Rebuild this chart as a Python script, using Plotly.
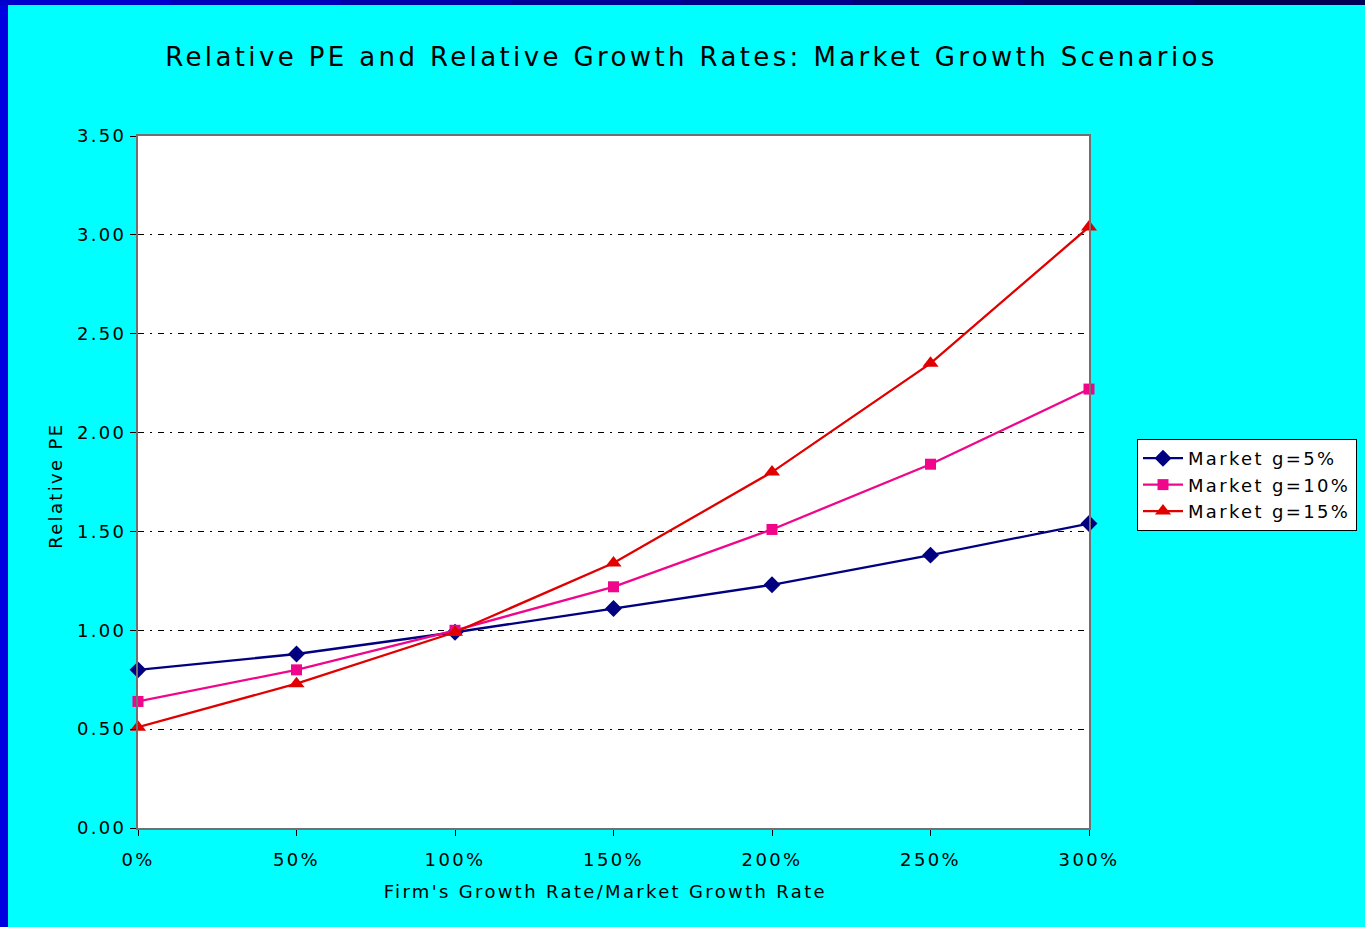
import plotly.graph_objects as go

# ---- data ----
growth_ratio = [0.0, 0.5, 1.0, 1.5, 2.0, 2.5, 3.0]
g5 = [0.80, 0.88, 0.99, 1.11, 1.23, 1.38, 1.54]
g10 = [0.64, 0.80, 1.00, 1.22, 1.51, 1.84, 2.22]
g15 = [0.51, 0.73, 0.99, 1.34, 1.80, 2.35, 3.04]
series_names = ["Market g=5%", "Market g=10%", "Market g=15%"]
x_ticks = [0.0, 0.5, 1.0, 1.5, 2.0, 2.5, 3.0]
x_ticklabels = ["0%", "50%", "100%", "150%", "200%", "250%", "300%"]
y_ticks = [0.0, 0.5, 1.0, 1.5, 2.0, 2.5, 3.0, 3.5]

W, H = 1365, 927
ML, MR, MT, MB = 138, 276, 136, 99
PW, PH = W - ML - MR, H - MT - MB

FONT = "DejaVu Sans"

fig = go.Figure()
styles = [
    dict(color="#000080", symbol="diamond", size=13),
    dict(color="#F0068A", symbol="square", size=11),
    dict(color="#E00000", symbol="triangle-up", size=14),
]
for name, ys, st in zip(series_names, [g5, g10, g15], styles):
    fig.add_trace(go.Scatter(
        x=growth_ratio, y=ys, name=name, mode="lines+markers",
        line=dict(color=st["color"], width=2.3),
        marker=dict(symbol=st["symbol"], size=st["size"], color=st["color"]),
        cliponaxis=False,
    ))

def px_x(p):
    return (p - ML) / PW

def px_y(p):
    return (H - MB - p) / PH

shapes = []
# left blue border
shapes.append(dict(type="rect", xref="paper", yref="paper",
                   x0=px_x(0), x1=px_x(8), y0=px_y(H), y1=px_y(0),
                   fillcolor="#0000E0", line=dict(width=0), layer="below"))
# top gradient border
top_cols = ["#0000CC", "#0000BB", "#0000AA", "#000099", "#000088", "#000077", "#000066", "#000055"]
n = len(top_cols)
for i, c in enumerate(top_cols):
    shapes.append(dict(type="rect", xref="paper", yref="paper",
                       x0=px_x(W * i / n), x1=px_x(W * (i + 1) / n + 1),
                       y0=px_y(5), y1=px_y(0),
                       fillcolor=c, line=dict(width=0), layer="below"))

fig.update_layout(
    width=W, height=H,
    margin=dict(l=ML, r=MR, t=MT, b=MB, autoexpand=False),
    paper_bgcolor="#00FFFF",
    plot_bgcolor="#FFFFFF",
    font=dict(family=FONT, size=18, color="#000000"),
    shapes=shapes,
    showlegend=True,
    legend=dict(
        x=px_x(1137), y=px_y(439), xanchor="left", yanchor="top",
        bgcolor="#FFFFFF", bordercolor="#000000", borderwidth=1,
        font=dict(family=FONT, size=18, color="#000000"),
        tracegroupgap=0, itemwidth=40,
    ),
    annotations=[
        dict(text="Relative PE and Relative Growth Rates: Market Growth Scenarios",
             xref="paper", yref="paper", x=px_x(691), y=px_y(57),
             xanchor="center", yanchor="middle", showarrow=False,
             font=dict(family=FONT, size=26, color="#000000")),
        dict(text="Firm's Growth Rate/Market Growth Rate",
             xref="paper", yref="paper", x=px_x(605), y=px_y(891),
             xanchor="center", yanchor="middle", showarrow=False,
             font=dict(family=FONT, size=18, color="#000000")),
        dict(text="Relative PE", textangle=-90,
             xref="paper", yref="paper", x=px_x(55), y=px_y(486),
             xanchor="center", yanchor="middle", showarrow=False,
             font=dict(family=FONT, size=18, color="#000000")),
    ],
)

fig.update_xaxes(
    range=[0, 3], tickvals=x_ticks, ticktext=x_ticklabels,
    showgrid=False, zeroline=False, automargin=False,
    showline=True, linecolor="#707070", linewidth=2, mirror=True,
    ticks="outside", ticklen=6, tickcolor="#000000", tickwidth=1,
    tickfont=dict(family=FONT, size=18), ticklabelstandoff=8,
)
fig.update_yaxes(
    range=[0, 3.5], tickvals=y_ticks, tickformat=".2f", automargin=False,
    showgrid=True, gridcolor="#000000", gridwidth=1, griddash="6px,6px,2px,6px",
    zeroline=False,
    showline=True, linecolor="#707070", linewidth=2, mirror=True,
    ticks="outside", ticklen=6, tickcolor="#000000", tickwidth=1,
    tickfont=dict(family=FONT, size=18),
)

# Wider letter spacing (as in the reference's Verdana-like rendering); a tiny
# legend font change forces plotly to re-measure the spaced legend text.
post = """
var gd = document.getElementById('{plot_id}');
var st = document.createElement('style');
st.textContent = 'svg text { letter-spacing: 0.13em; }';
document.head.appendChild(st);
return Plotly.relayout(gd, {'legend.font.size': 18.01});
"""

fig.write_html("out.html", post_script=post)
